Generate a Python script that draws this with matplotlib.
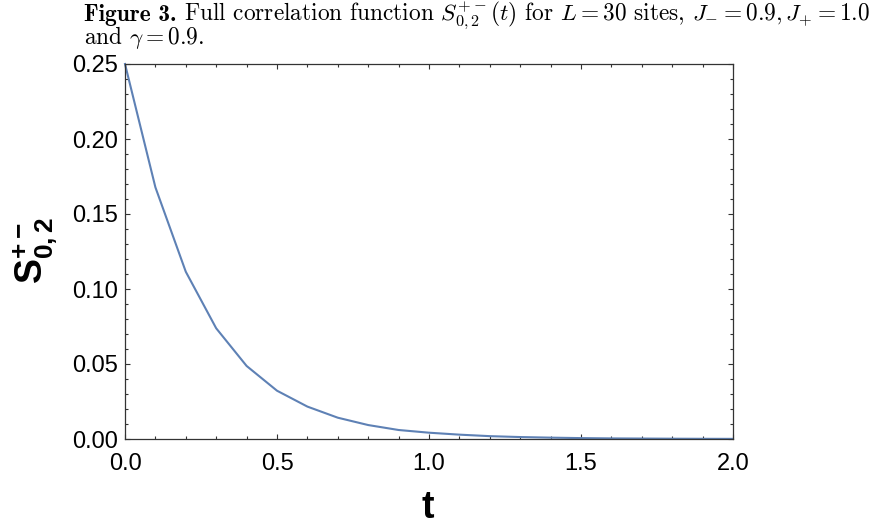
import matplotlib
matplotlib.use("Agg")
import matplotlib.pyplot as plt
from matplotlib.ticker import MultipleLocator, FormatStrFormatter

# data
t_values = [0.0, 0.1, 0.2, 0.3, 0.4, 0.5, 0.6, 0.7, 0.8, 0.9, 1.0,
            1.1, 1.2, 1.3, 1.4, 1.5, 1.6, 1.7, 1.8, 1.9, 2.0]
s_values = [0.250, 0.1678, 0.1115, 0.0738, 0.0487, 0.0322, 0.0216, 0.0142,
            0.0093, 0.0060, 0.0042, 0.0029, 0.0019, 0.0013, 0.0009, 0.0006,
            0.0004, 0.0003, 0.0002, 0.00013, 0.00009]
x_ticks = [0.0, 0.5, 1.0, 1.5, 2.0]
y_ticks = [0.00, 0.05, 0.10, 0.15, 0.20, 0.25]

plt.rcParams['font.family'] = ['Liberation Sans', 'DejaVu Sans']
plt.rcParams['mathtext.fontset'] = 'custom'
plt.rcParams['mathtext.rm'] = 'Liberation Sans:bold'
plt.rcParams['mathtext.bf'] = 'Liberation Sans:bold'
plt.rcParams['mathtext.it'] = 'Liberation Sans:bold'

W, H = 883, 528
fig = plt.figure(figsize=(W / 100, H / 100), dpi=100)
ax = fig.add_axes([125 / W, 1 - 439 / H, (733 - 125) / W, (439 - 64) / H])

ax.plot(t_values, s_values, color='#5E81B5', lw=1.5, clip_on=False)
ax.set_xlim(0, 2.0)
ax.set_ylim(0, 0.25)
ax.set_xticks(x_ticks)
ax.set_yticks(y_ticks)
ax.xaxis.set_major_formatter(FormatStrFormatter('%.1f'))
ax.yaxis.set_major_formatter(FormatStrFormatter('%.2f'))
ax.xaxis.set_minor_locator(MultipleLocator(0.1))
ax.yaxis.set_minor_locator(MultipleLocator(0.01))

frame_col = '#333333'
for sp in ax.spines.values():
    sp.set_color(frame_col)
    sp.set_linewidth(0.9)
ax.tick_params(which='both', direction='in', top=True, right=True,
               color=frame_col, width=0.8)
ax.tick_params(which='major', length=3.5)
ax.tick_params(which='minor', length=2.0)
ax.tick_params(axis='y', which='major', labelsize=17, pad=5)
ax.tick_params(axis='x', which='major', labelsize=17, pad=10)

fig.text(428 / W, 1 - 508 / H, 't', fontsize=27, fontweight='bold',
         ha='center', va='center')
fig.text(35 / W, 1 - 250 / H, r'$\mathbf{S}^{\mathbf{+-}}_{\mathbf{0,2}}$',
         fontsize=27, rotation=90, ha='center', va='center',
         math_fontfamily='custom')

cap_size = 16.8
bold_part = 'Figure 3.'
cap1 = (r'Full correlation function '
        r'$S^{+-}_{0,2}(t)$ for $L=30$ sites, $J_{-}=0.9, J_{+}=1.0$')
cap2 = r'and $\gamma=0.9$.'
tb = fig.text(84 / W, 1 - 21 / H, bold_part, fontsize=cap_size, family='cmb10',
              ha='left', va='baseline')
fig.canvas.draw()
bb = tb.get_window_extent(renderer=fig.canvas.get_renderer())
fig.text((bb.x1 + 8) / W, 1 - 21 / H, cap1, fontsize=cap_size, family='cmr10',
         math_fontfamily='cm', ha='left', va='baseline')
fig.text(84 / W, 1 - 44 / H, cap2, fontsize=cap_size, family='cmr10',
         math_fontfamily='cm', ha='left', va='baseline')

fig.savefig('out.png', dpi=100)
